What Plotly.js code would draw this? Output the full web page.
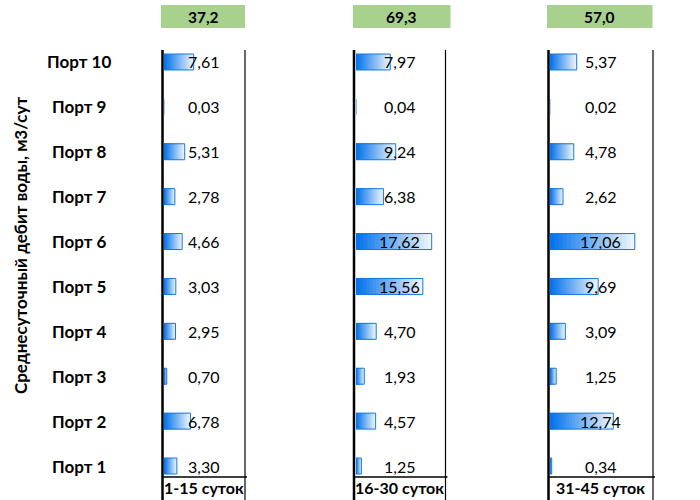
<!DOCTYPE html>
<html>
<head>
<meta charset="utf-8">
<script src="https://cdn.plot.ly/plotly-3.0.1.min.js"></script>
<style>html,body{margin:0;padding:0;background:#fff;}#chart{width:700px;height:500px;}</style>
</head>
<body>
<div id="chart"></div>
<script>
// ---- data ----
const ports = ['Порт 1','Порт 2','Порт 3','Порт 4','Порт 5','Порт 6','Порт 7','Порт 8','Порт 9','Порт 10'];
const period1 = [3.30, 6.78, 0.70, 2.95, 3.03, 4.66, 2.78, 5.31, 0.03, 7.61];
const period2 = [1.25, 4.57, 1.93, 4.70, 15.56, 17.62, 6.38, 9.24, 0.04, 7.97];
const period3 = [0.34, 12.74, 1.25, 3.09, 9.69, 17.06, 2.62, 4.78, 0.02, 5.37];
const periodLabels = ['1-15 суток', '16-30 суток', '31-45 суток'];
const yTitle = 'Среднесуточный дебит воды, м3/сут';

// ---- layout helpers ----
const W = 700, H = 500;
const X = p => p / W;
const Y = p => 1 - p / H;
const FONT = 'Lato, "Noto Sans", sans-serif';

const series = [period1, period2, period3];
const panels = [
  {left: 162.5, barStart: 164, right: 245, pxPerUnit: 3.90, box: [161, 245]},
  {left: 354,   barStart: 356, right: 445.5, pxPerUnit: 4.296, box: [353, 450.5]},
  {left: 548.5, barStart: 550, right: 653, pxPerUnit: 4.97, box: [547, 652.5]}
];

const traces = [];
const N = 20;
const dark = [5, 115, 235], light = [236, 244, 253];
const mix = t => 'rgb(' + dark.map((d, i) => Math.round(light[i] + (d - light[i]) * t)).join(',') + ')';
const BW = 0.356;

series.forEach((vals, pi) => {
  const xa = pi === 0 ? 'x' : 'x' + (pi + 1);
  const ppu = panels[pi].pxPerUnit;
  for (let k = 0; k < N; k++) {
    traces.push({
      type: 'bar', orientation: 'h', xaxis: xa, yaxis: 'y',
      y: ports, x: vals.map(v => v * (N - k) / N),
      width: BW, marker: {color: mix(k / (N - 1)), line: {width: 0}},
      hoverinfo: 'skip'
    });
  }
  traces.push({
    type: 'bar', orientation: 'h', xaxis: xa, yaxis: 'y',
    y: ports, x: vals, width: BW,
    marker: {color: 'rgba(0,0,0,0)', line: {color: 'rgb(20,120,225)', width: vals.map(v => v * ppu < 1 ? 0 : 1)}},
    hoverinfo: 'skip'
  });
});

const layout = {
  width: W, height: H,
  margin: {l: 0, r: 0, t: 0, b: 0},
  paper_bgcolor: '#fff', plot_bgcolor: 'rgba(0,0,0,0)',
  showlegend: false, barmode: 'overlay',
  font: {family: FONT, color: '#000'},
  yaxis: {type: 'category', categoryarray: ports, range: [-0.245, 9.267],
          domain: [Y(477), Y(50)], showticklabels: false, showgrid: false, zeroline: false, ticks: ''},
  shapes: [], annotations: []
};

panels.forEach((p, pi) => {
  const key = pi === 0 ? 'xaxis' : 'xaxis' + (pi + 1);
  layout[key] = {
    domain: [X(p.barStart), X(p.right)],
    range: [0, (p.right - p.barStart) / p.pxPerUnit],
    showticklabels: false, showgrid: false, zeroline: false, ticks: '', fixedrange: true
  };
  // cell borders
  layout.shapes.push({type: 'line', xref: 'paper', yref: 'paper', x0: X(p.left), x1: X(p.left), y0: Y(50), y1: Y(500), line: {color: '#000', width: 2.5}});
  layout.shapes.push({type: 'line', xref: 'paper', yref: 'paper', x0: X(p.right), x1: X(p.right), y0: Y(50), y1: Y(500), line: {color: '#000', width: 1.2}});
  layout.shapes.push({type: 'line', xref: 'paper', yref: 'paper', x0: X(p.left), x1: X(p.right + 2), y0: Y(477), y1: Y(477), line: {color: '#000', width: 1.5}});
  // green total box
  layout.shapes.push({type: 'rect', xref: 'paper', yref: 'paper', x0: X(p.box[0]), x1: X(p.box[1]), y0: Y(28), y1: Y(5), fillcolor: '#A9D18E', line: {width: 0}, layer: 'below'});
  const total = series[pi].reduce((a, b) => a + b, 0);
  const cx = (p.left + p.right) / 2;
  layout.annotations.push({xref: 'paper', yref: 'paper', x: X((p.box[0] + p.box[1]) / 2), y: Y(17), text: '<b>' + total.toFixed(1).replace('.', ',') + '</b>', showarrow: false, xanchor: 'center', yanchor: 'middle', font: {size: 15.5, family: FONT, color: '#000'}});
  layout.annotations.push({xref: 'paper', yref: 'paper', x: X(cx), y: Y(487.5), text: '<b>' + periodLabels[pi] + '</b>', showarrow: false, xanchor: 'center', yanchor: 'middle', font: {size: 16, family: FONT, color: '#000'}});
  series[pi].forEach((v, i) => {
    layout.annotations.push({xref: 'paper', yref: 'y', x: X(cx), y: ports[i], text: v.toFixed(2).replace('.', ','), showarrow: false, xanchor: 'center', yanchor: 'middle', font: {size: 16, family: FONT, color: '#000'}});
  });
});

ports.forEach(pn => {
  layout.annotations.push({xref: 'paper', yref: 'y', x: X(79), y: pn, text: '<b>' + pn + '</b>', showarrow: false, xanchor: 'center', yanchor: 'middle', font: {size: 17, family: FONT, color: '#000'}});
});
layout.annotations.push({xref: 'paper', yref: 'paper', x: X(20), y: Y(245), text: '<b>' + yTitle + '</b>', textangle: -90, showarrow: false, xanchor: 'center', yanchor: 'middle', font: {size: 17, family: FONT, color: '#000'}});

Plotly.newPlot('chart', traces, layout, {staticPlot: true, displayModeBar: false});
</script>
</body>
</html>
